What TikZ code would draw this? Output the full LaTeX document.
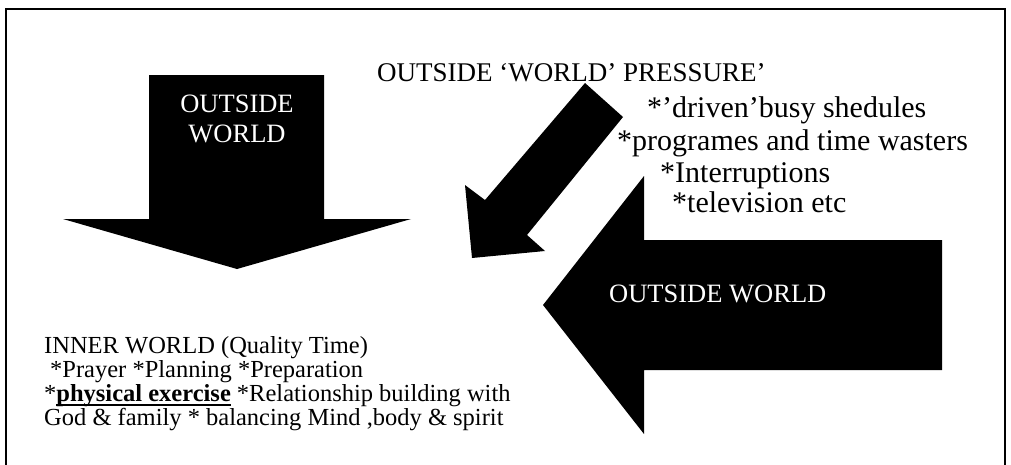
\documentclass[tikz,border=0pt]{standalone}
\usepackage{fontspec}
\setmainfont{Liberation Serif}
% bold text with a heavy underline
\newcommand\heavyul[1]{\setbox0\hbox{#1}\rlap{\rule[-4.5pt]{\wd0}{1.8pt}}\box0\relax}
\begin{document}
\begin{tikzpicture}[x=1pt,y=-1pt,
  blockarrow/.style={fill=black,draw=none},
  armlabel/.style={text=white,inner sep=0pt,font=\fontsize{26.5}{30}\selectfont},
  pressure/.style={anchor=base west,inner sep=0pt,font=\fontsize{30}{33}\selectfont},
  innertext/.style={anchor=base west,inner sep=0pt,font=\fontsize{24.5}{24}\selectfont}]
\useasboundingbox (0,0) rectangle (1011,464);

% frame, open at the bottom edge of the page
\draw[line width=2pt] (6,470) -- (6,8.5) -- (1004.5,8.5) -- (1004.5,470);

% downward block arrow
\fill[blockarrow] (149,75) -- (324,75) -- (324,219) -- (411,219) -- (237,269)
  -- (63,219) -- (149,219) -- cycle;
\node[armlabel,align=center,anchor=north] (downlabel) at (237,94.5) {OUTSIDE\\WORLD};

% diagonal pressure arrow
\fill[blockarrow] (585,83) -- (623,117) -- (527,235) -- (545,251) -- (472,258)
  -- (465,185) -- (485,200) -- cycle;

% leftward block arrow
\fill[blockarrow] (942,240) -- (942,370) -- (644,370) -- (644,434) -- (543,305)
  -- (644,176) -- (644,240) -- cycle;
\node[armlabel,anchor=base west] (leftlabel) at (609,302) {OUTSIDE WORLD};

% outside pressures
\node[pressure,font=\fontsize{27}{33}\selectfont] (ptitle) at (377,81) {OUTSIDE ‘WORLD’ PRESSURE’};
\node[pressure] (p1) at (647,117) {*’driven’busy shedules};
\node[pressure] (p2) at (617,150) {*programes and time wasters};
\node[pressure] (p3) at (660,182) {*Interruptions};
\node[pressure] (p4) at (672,212) {*television etc};

% inner world
\node[innertext] (i1) at (44,353) {INNER WORLD (Quality Time)};
\node[innertext] (i2) at (50,377) {*Prayer *Planning *Preparation};
\node[innertext] (i3) at (44,401) {*\heavyul{\textbf{physical exercise}} *Relationship building with};
\node[innertext] (i4) at (44,425) {God \& family * balancing Mind ,body \& spirit};
\end{tikzpicture}
\end{document}
